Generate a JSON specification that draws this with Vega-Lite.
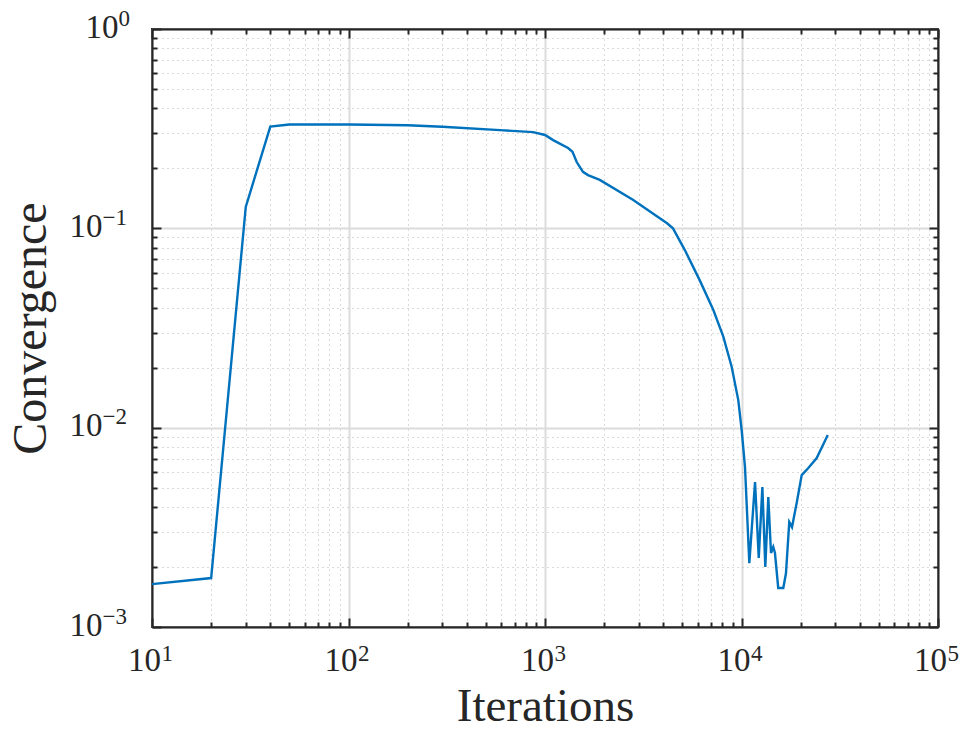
{
  "$schema": "https://vega.github.io/schema/vega-lite/v6.json",
  "width": 786,
  "height": 598,
  "autosize": {"type": "none"},
  "padding": {"left": 152, "top": 29, "right": 27, "bottom": 106},
  "background": "white",
  "config": {
    "view": {"stroke": "#262626", "strokeWidth": 2},
    "axis": {"labelFont": "Liberation Serif", "titleFont": "Liberation Serif", "labelColor": "#262626", "titleColor": "#262626", "tickColor": "#262626", "domainColor": "#262626", "labelFlush": false, "labelOverlap": false, "titleFontWeight": "normal"}
  },
  "data": {"values": [
    {"it": 10, "c": 0.00164}, {"it": 20, "c": 0.00176}, {"it": 30, "c": 0.128}, {"it": 40, "c": 0.324},
    {"it": 50, "c": 0.332}, {"it": 100, "c": 0.332}, {"it": 200, "c": 0.329}, {"it": 300, "c": 0.3235},
    {"it": 590, "c": 0.311}, {"it": 870, "c": 0.304}, {"it": 1000, "c": 0.294}, {"it": 1100, "c": 0.277},
    {"it": 1310, "c": 0.253}, {"it": 1380, "c": 0.242}, {"it": 1450, "c": 0.215}, {"it": 1560, "c": 0.192}, {"it": 1655, "c": 0.185},
    {"it": 1900, "c": 0.175}, {"it": 2800, "c": 0.139}, {"it": 4180, "c": 0.106}, {"it": 4480, "c": 0.1},
    {"it": 5150, "c": 0.0778}, {"it": 6150, "c": 0.0545}, {"it": 7190, "c": 0.0389}, {"it": 8080, "c": 0.0286},
    {"it": 8910, "c": 0.0202}, {"it": 9630, "c": 0.01375}, {"it": 10020, "c": 0.00973}, {"it": 10420, "c": 0.00634},
    {"it": 10960, "c": 0.00209}, {"it": 11720, "c": 0.00533}, {"it": 12240, "c": 0.00222}, {"it": 12770, "c": 0.00503},
    {"it": 13220, "c": 0.002}, {"it": 13690, "c": 0.00449}, {"it": 14130, "c": 0.00235}, {"it": 14510, "c": 0.00252},
    {"it": 14800, "c": 0.00235}, {"it": 15380, "c": 0.00157}, {"it": 16320, "c": 0.00157}, {"it": 16840, "c": 0.00186},
    {"it": 17500, "c": 0.00336}, {"it": 18070, "c": 0.00317}, {"it": 19090, "c": 0.00419}, {"it": 20250, "c": 0.00578},
    {"it": 21880, "c": 0.00627}, {"it": 24140, "c": 0.00704}, {"it": 27480, "c": 0.00918}
  ]},
  "layer": [
    {
      "mark": {"type": "line", "strokeOpacity": 0},
      "encoding": {
        "x": {"field": "it", "type": "quantitative", "scale": {"type": "log", "domain": [10, 100000], "nice": false},
          "axis": {"orient": "bottom", "values": [20,30,40,50,60,70,80,90,200,300,400,500,600,700,800,900,2000,3000,4000,5000,6000,7000,8000,9000,20000,30000,40000,50000,60000,70000,80000,90000],
            "labels": false, "title": null, "domain": false, "tickSize": -5, "tickWidth": 2, "grid": true, "gridColor": "#b4b4b4", "gridDash": [1, 4], "gridWidth": 1}},
        "y": {"field": "c", "type": "quantitative", "scale": {"type": "log", "domain": [0.001, 1], "nice": false},
          "axis": {"orient": "left", "values": [0.002,0.003,0.004,0.005,0.006,0.007,0.008,0.009,0.02,0.03,0.04,0.05,0.06,0.07,0.08,0.09,0.2,0.3,0.4,0.5,0.6,0.7,0.8,0.9],
            "labels": false, "title": null, "domain": false, "tickSize": -5, "tickWidth": 2, "grid": true, "gridColor": "#b4b4b4", "gridDash": [1, 4], "gridWidth": 1}}
      }
    },
    {
      "mark": {"type": "line", "strokeOpacity": 0},
      "encoding": {
        "x": {"field": "it", "type": "quantitative", "scale": {"type": "log", "domain": [10, 100000], "nice": false},
          "axis": {"orient": "top", "values": [20,30,40,50,60,70,80,90,200,300,400,500,600,700,800,900,2000,3000,4000,5000,6000,7000,8000,9000,20000,30000,40000,50000,60000,70000,80000,90000],
            "labels": false, "title": null, "domain": false, "tickSize": -5, "tickWidth": 2, "grid": false}},
        "y": {"field": "c", "type": "quantitative", "scale": {"type": "log", "domain": [0.001, 1], "nice": false},
          "axis": {"orient": "right", "values": [0.002,0.003,0.004,0.005,0.006,0.007,0.008,0.009,0.02,0.03,0.04,0.05,0.06,0.07,0.08,0.09,0.2,0.3,0.4,0.5,0.6,0.7,0.8,0.9],
            "labels": false, "title": null, "domain": false, "tickSize": -5, "tickWidth": 2, "grid": false}}
      }
    },
    {
      "mark": {"type": "line", "strokeOpacity": 0},
      "encoding": {
        "x": {"field": "it", "type": "quantitative", "scale": {"type": "log", "domain": [10, 100000], "nice": false},
          "axis": {"orient": "top", "values": [10, 100, 1000, 10000, 100000], "labels": false, "title": null, "domain": true, "domainWidth": 2, "tickSize": -9, "tickWidth": 2, "grid": false}},
        "y": {"field": "c", "type": "quantitative", "scale": {"type": "log", "domain": [0.001, 1], "nice": false},
          "axis": {"orient": "right", "values": [0.001, 0.01, 0.1, 1], "labels": false, "title": null, "domain": true, "domainWidth": 2, "tickSize": -9, "tickWidth": 2, "grid": false}}
      }
    },
    {
      "mark": {"type": "line", "strokeOpacity": 0},
      "encoding": {
        "x": {"field": "it", "type": "quantitative", "scale": {"type": "log", "domain": [10, 100000], "nice": false},
          "axis": {"orient": "bottom", "values": [10, 100, 1000, 10000, 100000], "labels": false, "title": null, "domain": true, "domainWidth": 2, "tickSize": -9, "tickWidth": 2, "grid": true, "gridColor": "#dcdcdc", "gridWidth": 2}},
        "y": {"field": "c", "type": "quantitative", "scale": {"type": "log", "domain": [0.001, 1], "nice": false},
          "axis": {"orient": "left", "values": [0.001, 0.01, 0.1, 1], "labels": false, "title": null, "domain": true, "domainWidth": 2, "tickSize": -9, "tickWidth": 2, "grid": true, "gridColor": "#dcdcdc", "gridWidth": 2}}
      }
    },
    {
      "mark": {"type": "line", "strokeOpacity": 0},
      "encoding": {
        "x": {"field": "it", "type": "quantitative", "scale": {"type": "log", "domain": [10, 100000], "nice": false},
          "axis": {"orient": "bottom", "values": [10, 100, 1000, 10000, 100000], "labelExpr": "'10'",
            "ticks": false, "domain": false, "grid": false, "labelFontSize": 33, "labelBaseline": "alphabetic", "labelAlign": "center", "labelPadding": 43, "labelOffset": -8,
            "title": "Iterations", "titleFontSize": 47, "titleBaseline": "alphabetic", "titleY": 93}},
        "y": {"field": "c", "type": "quantitative", "scale": {"type": "log", "domain": [0.001, 1], "nice": false},
          "axis": {"orient": "left", "values": [0.001, 0.01, 0.1, 1], "labelExpr": "'10'",
            "ticks": false, "domain": false, "grid": false, "labelFontSize": 33, "labelBaseline": "alphabetic", "labelAlign": "right",
            "labelPadding": {"condition": {"test": "datum.value == 1", "value": 34}, "value": 50}, "labelOffset": 8,
            "title": "Convergence", "titleFontSize": 48, "titleBaseline": "alphabetic", "titleX": -107}}
      }
    },
    {
      "mark": {"type": "line", "color": "#0072BD", "strokeWidth": 2.4},
      "encoding": {
        "x": {"field": "it", "type": "quantitative", "scale": {"type": "log", "domain": [10, 100000], "nice": false},
          "axis": {"orient": "bottom", "values": [10, 100, 1000, 10000, 100000],
            "labelExpr": "datum.value==10?'1':datum.value==100?'2':datum.value==1000?'3':datum.value==10000?'4':'5'",
            "ticks": false, "domain": false, "grid": false, "labelFontSize": 23, "labelBaseline": "alphabetic", "labelAlign": "left", "labelPadding": 33, "labelOffset": 9, "title": null}},
        "y": {"field": "c", "type": "quantitative", "scale": {"type": "log", "domain": [0.001, 1], "nice": false},
          "axis": {"orient": "left", "values": [0.001, 0.01, 0.1, 1],
            "labelExpr": "datum.value==1?'0':datum.value==0.1?'\u22121':datum.value==0.01?'\u22122':'\u22123'",
            "ticks": false, "domain": false, "grid": false, "labelFontSize": 23, "labelBaseline": "alphabetic", "labelAlign": "left",
            "labelPadding": {"condition": {"test": "datum.value == 1", "value": 34}, "value": 50}, "labelOffset": -4, "title": null}}
      }
    }
  ],
  "resolve": {"axis": {"x": "independent", "y": "independent"}}
}
